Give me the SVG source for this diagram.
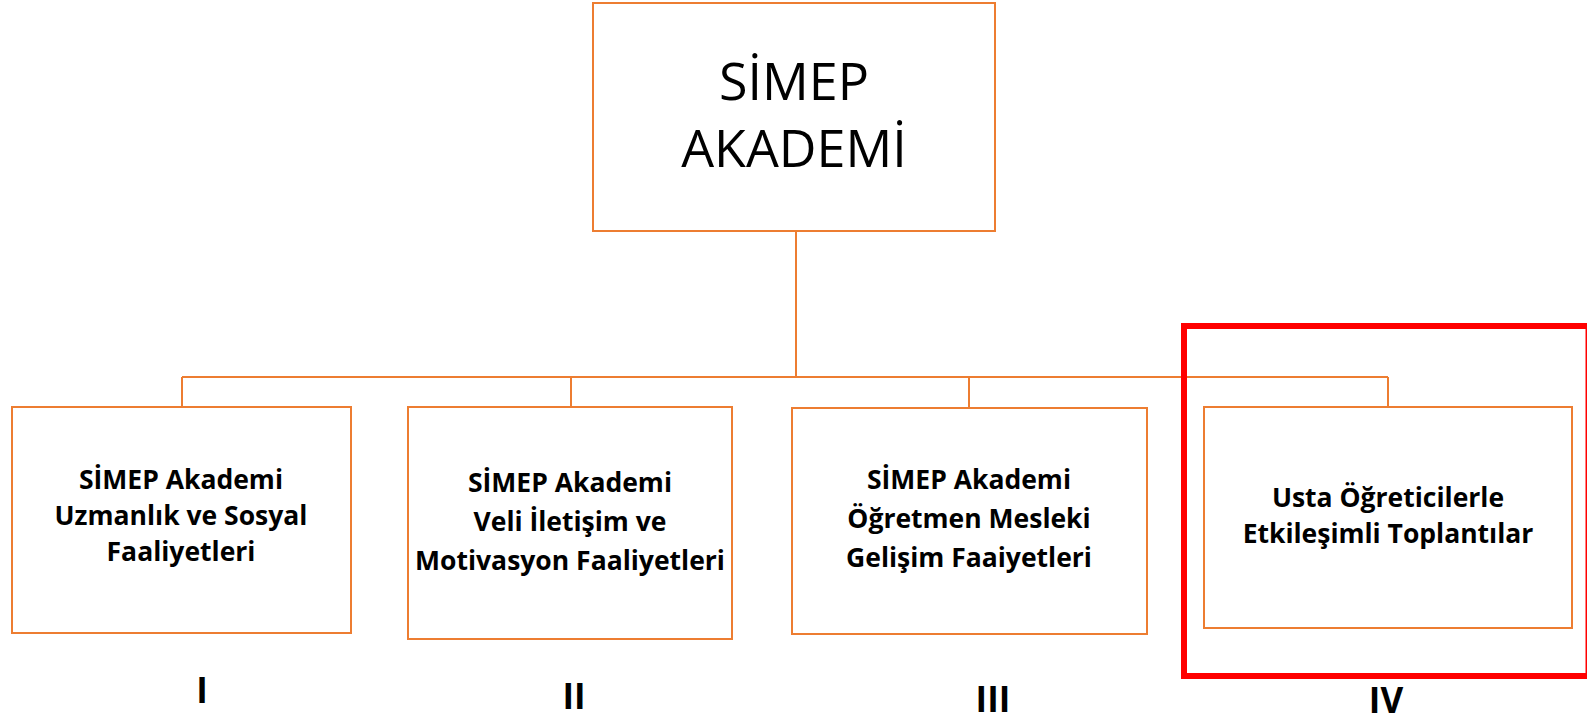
<svg xmlns="http://www.w3.org/2000/svg" width="1587" height="722" viewBox="0 0 1587 722">
<style>
.box{fill:#fff;stroke:#ED7D31;stroke-width:2}
.ln{fill:none;stroke:#ED7D31;stroke-width:2}
.t{font-family:"Open Sans","Liberation Sans",sans-serif;fill:#000;text-anchor:middle}
.b{font-weight:bold;font-size:26.5px}
.num{font-weight:bold;font-size:35px}
</style>
<rect width="1587" height="722" fill="#fff"/>
<g id="connectors">
<path class="ln" d="M796 232V377M182 377H1388M182 377V407M571 377V407M969 377V408M1388 377V407"/>
</g>
<g id="root">
<rect class="box" x="593" y="3" width="402" height="228"/>
<text class="t" x="794" y="100" font-size="52">SİMEP</text>
<text class="t" x="794" y="167" font-size="52">AKADEMİ</text>
</g>
<g id="node1">
<rect class="box" x="12" y="407" width="339" height="226"/>
<text class="t b" x="181" y="489">SİMEP Akademi</text>
<text class="t b" x="181" y="525">Uzmanlık ve Sosyal</text>
<text class="t b" x="181" y="561">Faaliyetleri</text>
</g>
<g id="node2">
<rect class="box" x="408" y="407" width="324" height="232"/>
<text class="t b" x="570" y="492">SİMEP Akademi</text>
<text class="t b" x="570" y="531">Veli İletişim ve</text>
<text class="t b" x="570" y="570">Motivasyon Faaliyetleri</text>
</g>
<g id="node3">
<rect class="box" x="792" y="408" width="355" height="226"/>
<text class="t b" x="969" y="489">SİMEP Akademi</text>
<text class="t b" x="969" y="528">Öğretmen Mesleki</text>
<text class="t b" x="969" y="567">Gelişim Faaiyetleri</text>
</g>
<g id="node4">
<rect class="box" x="1204" y="407" width="368" height="221"/>
<text class="t b" x="1388" y="507">Usta Öğreticilerle</text>
<text class="t b" x="1388" y="543">Etkileşimli Toplantılar</text>
</g>
<g id="highlight">
<rect x="1184" y="326" width="404.5" height="350" fill="none" stroke="#FF0000" stroke-width="6"/>
</g>
<g id="labels">
<text class="t num" x="202" y="703">I</text>
<text class="t num" x="574" y="709">II</text>
<text class="t num" x="993" y="712">III</text>
<text class="t num" x="1386" y="713">IV</text>
</g>
</svg>
